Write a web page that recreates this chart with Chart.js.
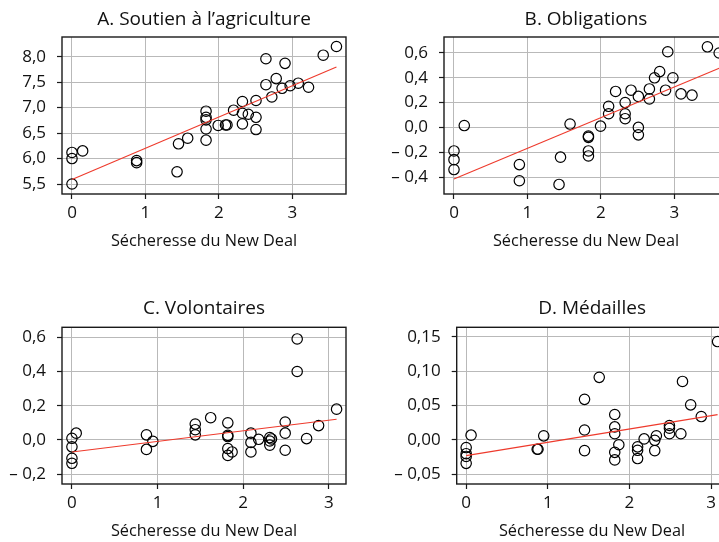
<!DOCTYPE html>
<html><head><meta charset="utf-8">
<script src="https://cdn.jsdelivr.net/npm/chart.js@4.4.1/dist/chart.umd.min.js"></script>
<style>
html,body{margin:0;padding:0;background:#fff;overflow:hidden;width:719px;height:542px;position:relative;}
.panel{position:absolute;}
canvas{display:block;}
</style></head><body>
<div class="panel" style="left:0px;top:0px"><canvas id="cA" width="360" height="260"></canvas></div>
<div class="panel" style="left:360px;top:0px"><canvas id="cB" width="380" height="260"></canvas></div>
<div class="panel" style="left:0px;top:280px"><canvas id="cC" width="360" height="270"></canvas></div>
<div class="panel" style="left:360px;top:280px"><canvas id="cD" width="380" height="270"></canvas></div>
<script>
// ---------------- data ----------------
const xTitle = 'Sécheresse du New Deal';
const xTicks = [0, 1, 2, 3];
const xLabels = ['0', '1', '2', '3'];

const titleA = 'A. Soutien à l’agriculture';
const droughtA = [0,0,0,0.145,0.88,0.88,1.43,1.45,1.575,1.825,1.825,1.825,1.825,1.825,1.99,2.09,2.11,2.20,2.32,2.32,2.32,2.40,2.505,2.505,2.505,2.64,2.64,2.72,2.78,2.86,2.90,2.97,3.08,3.22,3.42,3.60];
const valuesA = [5.50,6.00,6.12,6.15,5.96,5.92,5.74,6.29,6.40,6.93,6.81,6.76,6.58,6.36,6.65,6.66,6.66,6.95,7.12,6.89,6.68,6.87,7.14,6.81,6.57,7.96,7.45,7.21,7.57,7.38,7.87,7.43,7.48,7.40,8.03,8.20];
const yTicksA = [5.5, 6, 6.5, 7, 7.5, 8];
const yLabelsA = ['5,5', '6,0', '6,5', '7,0', '7,5', '8,0'];
const fitXA = [0, 3.60];
const fitYA = [5.59, 7.80];

const titleB = 'B. Obligations';
const droughtB = [0,0,0,0.14,0.89,0.89,1.43,1.45,1.58,1.83,1.83,1.83,1.83,1.995,2.105,2.105,2.20,2.33,2.33,2.33,2.41,2.51,2.51,2.51,2.66,2.66,2.73,2.80,2.88,2.91,2.98,3.09,3.24,3.45,3.61];
const valuesB = [-0.19,-0.26,-0.34,0.015,-0.30,-0.43,-0.46,-0.24,0.027,-0.07,-0.08,-0.19,-0.23,0.01,0.17,0.11,0.29,0.20,0.11,0.07,0.30,0.25,0.00,-0.06,0.23,0.31,0.40,0.45,0.30,0.61,0.40,0.27,0.26,0.65,0.60];
const yTicksB = [-0.4, -0.2, 0, 0.2, 0.4, 0.6];
const yLabelsB = ['– 0,4', '– 0,2', '0,0', '0,2', '0,4', '0,6'];
const fitXB = [0, 3.61];
const fitYB = [-0.416, 0.477];

const titleC = 'C. Volontaires';
const droughtC = [0,0,0,0,0.05,0.87,0.87,0.945,1.44,1.44,1.44,1.62,1.82,1.82,1.82,1.82,1.82,1.87,2.09,2.09,2.09,2.18,2.31,2.31,2.31,2.33,2.49,2.49,2.49,2.63,2.63,2.74,2.88,3.09];
const valuesC = [0.01,-0.04,-0.107,-0.136,0.04,0.03,-0.055,-0.008,0.093,0.06,0.03,0.13,0.10,0.027,0.02,-0.05,-0.09,-0.07,0.04,-0.014,-0.07,0.004,0.014,-0.006,-0.03,0.006,0.105,0.04,-0.06,0.59,0.40,0.008,0.084,0.18];
const yTicksC = [-0.2, 0, 0.2, 0.4, 0.6];
const yLabelsC = ['– 0,2', '0,0', '0,2', '0,4', '0,6'];
const fitXC = [0, 3.09];
const fitYC = [-0.070, 0.121];

const titleD = 'D. Médailles';
const droughtD = [0,0,0,0,0.06,0.87,0.88,0.95,1.45,1.45,1.45,1.63,1.82,1.82,1.82,1.82,1.82,1.87,2.10,2.10,2.10,2.18,2.31,2.31,2.33,2.49,2.49,2.49,2.63,2.65,2.75,2.88,3.08];
const valuesD = [-0.011,-0.020,-0.024,-0.034,0.007,-0.0135,-0.0135,0.006,0.059,0.0145,-0.0155,0.091,0.037,0.019,0.009,-0.018,-0.029,-0.007,-0.010,-0.015,-0.027,0.0015,-0.0005,-0.0155,0.006,0.021,0.017,0.009,0.009,0.085,0.051,0.034,0.143];
const yTicksD = [-0.05, 0, 0.05, 0.10, 0.15];
const yLabelsD = ['– 0,05', '0,00', '0,05', '0,10', '0,15'];
const fitXD = [0, 3.08];
const fitYD = [-0.0228, 0.0368];

// axis ranges (visible window of each panel)
const xRangeAB = [-0.136, 3.73];
const xRangeCD = [-0.116, 3.2];
const yRangeA = [5.304, 8.387];
const yRangeB = [-0.537, 0.729];
const yRangeC = [-0.257, 0.658];
const yRangeD = [-0.064, 0.1637];

// ---------------- drawing ----------------
Chart.defaults.font.family = "'Open Sans', 'Noto Sans', sans-serif";
Chart.defaults.color = '#111';

const TEXT = '#111111';
const GRID = '#b9b9b9';
const FRAME = '#1a1a1a';
const FIT = '#ee3a2c';

const framePlugin = {
  id: 'frame',
  beforeDatasetsDraw(chart) {
    const a = chart.chartArea, ctx = chart.ctx;
    ctx.save();
    ctx.strokeStyle = FRAME;
    ctx.lineWidth = 1.4;
    ctx.strokeRect(a.left, a.top, a.right - a.left, a.bottom - a.top);
    ctx.restore();
  }
};

function makePanel(id, title, xs, ys, fx, fy, xr, yr, yt, yl, lay) {
  const pts = xs.map((x, i) => ({x: x, y: ys[i]}));
  const fit = fx.map((x, i) => ({x: x, y: fy[i]}));
  new Chart(document.getElementById(id), {
    type: 'scatter',
    data: {
      datasets: [
        {data: fit, showLine: true, borderColor: FIT, borderWidth: 1.1, pointRadius: 0, fill: false},
        {data: pts, pointStyle: 'circle', pointRadius: 5.2, borderWidth: 1.2,
         borderColor: '#000', backgroundColor: 'rgba(0,0,0,0)', showLine: false}
      ]
    },
    options: {
      responsive: false,
      animation: false,
      events: [],
      devicePixelRatio: 1,
      layout: {padding: {left: 0, right: lay.padR, top: 0, bottom: 0}},
      plugins: {
        legend: {display: false},
        tooltip: {enabled: false},
        title: {display: true, text: title, fullSize: false, color: TEXT,
                font: {size: 19, weight: 'normal'},
                padding: {top: lay.tTop, bottom: lay.tBot}}
      },
      scales: {
        x: {
          type: 'linear', min: xr[0], max: xr[1],
          afterBuildTicks: s => { s.ticks = xTicks.map(v => ({value: v})); },
          afterFit: s => { s.height = lay.xH; },
          ticks: {autoSkip: false, maxRotation: 0, padding: lay.xPad, color: TEXT,
                  font: {size: 17}, callback: (v, i) => xLabels[i]},
          grid: {color: GRID, lineWidth: 1, tickColor: FRAME, tickLength: 5, tickWidth: 1.2},
          border: {display: false},
          title: {display: true, text: xTitle, color: TEXT, font: {size: 16.3},
                  padding: {top: 0, bottom: lay.xtBot}}
        },
        y: {
          type: 'linear', min: yr[0], max: yr[1],
          afterBuildTicks: s => { s.ticks = yt.map(v => ({value: v})); },
          afterFit: s => { s.width = lay.yW; },
          ticks: {autoSkip: false, padding: 11, color: TEXT, font: {size: 17},
                  callback: (v, i) => yl[i]},
          grid: {color: GRID, lineWidth: 1, tickColor: FRAME, tickLength: 5, tickWidth: 1.2},
          border: {display: false}
        }
      }
    },
    plugins: [framePlugin]
  });
}

makePanel('cA', titleA, droughtA, valuesA, fitXA, fitYA, xRangeAB, yRangeA, yTicksA, yLabelsA,
          {padR: 14, yW: 62, xH: 66, tTop: 8.5, tBot: 5.7, xPad: 4, xtBot: 8.5});
makePanel('cB', titleB, droughtB, valuesB, fitXB, fitYB, xRangeAB, yRangeB, yTicksB, yLabelsB,
          {padR: 12, yW: 84, xH: 66, tTop: 8.5, tBot: 5.7, xPad: 4, xtBot: 8.5});
makePanel('cC', titleC, droughtC, valuesC, fitXC, fitYC, xRangeCD, yRangeC, yTicksC, yLabelsC,
          {padR: 14, yW: 62, xH: 66, tTop: 17, tBot: 7.5, xPad: 4, xtBot: 8.5});
makePanel('cD', titleD, droughtD, valuesD, fitXD, fitYD, xRangeCD, yRangeD, yTicksD, yLabelsD,
          {padR: 12.6, yW: 96.7, xH: 66, tTop: 17, tBot: 7.5, xPad: 4, xtBot: 8.5});
</script>
</body></html>
